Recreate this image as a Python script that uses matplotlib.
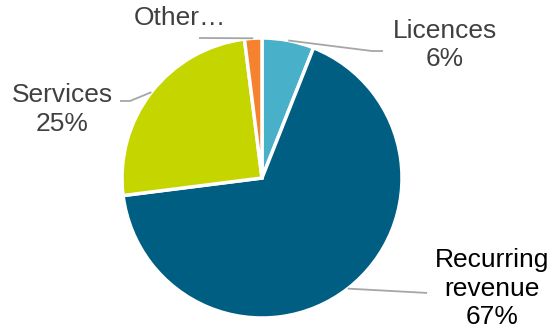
import numpy as np
import matplotlib.pyplot as plt

plt.rcParams['font.family'] = ['Liberation Sans', 'DejaVu Sans']

# data
categories = ['Licences', 'Recurring\nrevenue', 'Other…', 'Services']
shares = [6, 67, 2, 25]
order = [0, 1, 3, 2]  # clockwise from the top: Licences, Recurring, Services, Other
colors = {'Licences': '#48b0c8', 'Recurring\nrevenue': '#005e82',
          'Services': '#c5d500', 'Other…': '#f5822f'}

labels = [categories[i] for i in order]
values = [shares[i] for i in order]

fig = plt.figure(figsize=(5.54, 3.29), dpi=100)
# pie centre at (262, 178) px, radius 140 px
ax = fig.add_axes([122 / 554, 11 / 329, 280 / 554, 280 / 329])

wedges, _ = ax.pie(values, startangle=90, counterclock=False,
                   colors=[colors[l] for l in labels],
                   wedgeprops=dict(edgecolor='white', linewidth=2.5))
ax.set_xlim(-1, 1)
ax.set_ylim(-1, 1)
ax.set_aspect('equal')
ax.axis('off')

line_kw = dict(color='#a6a6a6', lw=1.3, clip_on=False, solid_capstyle='butt')

# label text position and leader-line elbow points (data units)
layout = {
    'Licences': ((1.307, 0.95), [(0.786, 0.907), (0.864, 0.907)], '#404040'),
    'Recurring\nrevenue': ((1.643, -0.79), [(1.179, -0.821)], 'black'),
    'Services': ((-1.429, 0.49), [(-0.943, 0.55), (-1.014, 0.55)], '#404040'),
    'Other…': ((-0.586, 1.145), [(-0.45, 1.0)], '#404040'),
}

for w, lab, val in zip(wedges, labels, values):
    mid = np.deg2rad((w.theta1 + w.theta2) / 2)
    start = (np.cos(mid), np.sin(mid))
    (tx, ty), pts, tc = layout[lab]
    xs = [start[0]] + [p[0] for p in pts]
    ys = [start[1]] + [p[1] for p in pts]
    ax.plot(xs, ys, **line_kw)
    text = lab if lab == 'Other…' else f'{lab}\n{val}%'
    ax.text(tx, ty, text, ha='center', va='center', fontsize=19,
            color=tc, linespacing=1.25)

fig.savefig('out.png', dpi=100)
